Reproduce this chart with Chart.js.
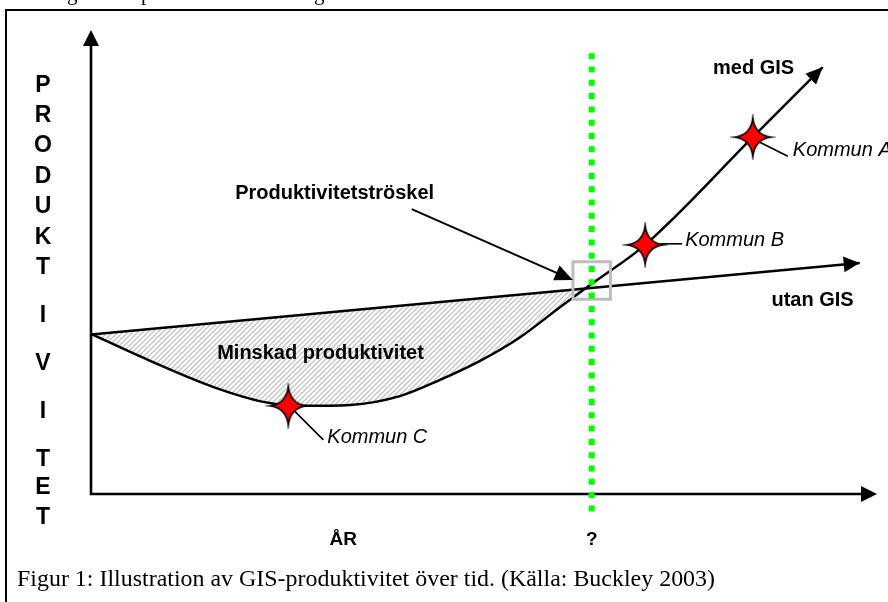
<!DOCTYPE html>
<html><head><meta charset="utf-8">
<script src="https://cdn.jsdelivr.net/npm/chart.js@4.4.1/dist/chart.umd.min.js"></script>
<style>html,body{margin:0;padding:0;background:#fff;}canvas{display:block;}</style>
</head><body>
<canvas id="c" width="888" height="602"></canvas>
<script>
// ---------- data (time units on x, productivity units on y) ----------
const tid      = [0, 0.75, 1.55, 2.21, 2.66, 3.30, 3.93, 4.44, 4.95, 5.46, 5.97, 6.37, 7.05, 8.42, 9.31];
const medGIS   = [3.45, 2.87, 2.31, 1.98, 1.90, 1.92, 2.11, 2.46, 2.87, 3.38, 4.03, 4.53, 5.37, 7.69, 9.20];
const utanTid  = [0, 9.78];
const utanGIS  = [3.44, 4.98];
const kommunNamn = ['Kommun A', 'Kommun B', 'Kommun C'];
const kommunTid  = [8.42, 7.05, 2.51];
const kommunProd = [7.69, 5.37, 1.90];
const troskelTid  = 6.37;
const troskelProd = 4.60;
const troskelLinje = [9.50, -0.39];
const yAxelBokstaver = ['P','R','O','D','U','K','T','I','V','I','T','E','T'];
const xAxelText = 'ÅR';
const troskelText = '?';
const rubrikText = 'Figur 1: Illustration av GIS-produktivitet över tid. (Källa: Buckley 2003)';

// ---------- styles / layout ----------
const SANS = '"Liberation Sans", Arial, sans-serif';
const SERIF = '"Liberation Serif", "Times New Roman", serif';
const yLetterY = [86, 116, 146, 177, 207, 238, 268, 316, 364, 412, 460, 488, 518];

function makeHatch() {
  const s = 5, c = document.createElement('canvas');
  c.width = s; c.height = s;
  const g = c.getContext('2d');
  g.fillStyle = '#ffffff'; g.fillRect(0, 0, s, s);
  g.strokeStyle = '#c2c2c2'; g.lineWidth = 1.3;
  g.beginPath();
  g.moveTo(0, s); g.lineTo(s, 0);
  g.moveTo(-1, 1); g.lineTo(1, -1);
  g.moveTo(s - 1, s + 1); g.lineTo(s + 1, s - 1);
  g.stroke();
  return g.createPattern(c, 'repeat');
}
function makeStar() {
  const W = 46, c = document.createElement('canvas');
  c.width = W; c.height = W;
  const g = c.getContext('2d');
  const cx = W / 2, cy = W / 2, rv = 19, rh = 18, k = 2.2;
  g.beginPath();
  g.moveTo(cx, cy - rv);
  g.quadraticCurveTo(cx + k, cy - k, cx + rh, cy);
  g.quadraticCurveTo(cx + k, cy + k, cx, cy + rv);
  g.quadraticCurveTo(cx - k, cy + k, cx - rh, cy);
  g.quadraticCurveTo(cx - k, cy - k, cx, cy - rv);
  g.closePath();
  g.fillStyle = '#ff0000'; g.fill();
  g.strokeStyle = '#000'; g.lineWidth = 1.7; g.lineJoin = 'miter'; g.stroke();
  return c;
}
function arrowHead(ctx, x1, y1, x2, y2, len, half) {
  const a = Math.atan2(y2 - y1, x2 - x1);
  const bx = x2 - len * Math.cos(a), by = y2 - len * Math.sin(a);
  ctx.beginPath();
  ctx.moveTo(x2, y2);
  ctx.lineTo(bx + half * Math.sin(a), by - half * Math.cos(a));
  ctx.lineTo(bx - half * Math.sin(a), by + half * Math.cos(a));
  ctx.closePath();
  ctx.fillStyle = '#000'; ctx.fill();
}

const diagramPlugin = {
  id: 'diagram',
  beforeDraw(chart) {
    const ctx = chart.ctx;
    ctx.save();
    ctx.fillStyle = '#fff';
    ctx.fillRect(0, 0, chart.width, chart.height);
    // partial line of text above the frame
    ctx.fillStyle = '#000';
    ctx.font = '21px ' + SERIF;
    ctx.textBaseline = 'alphabetic';
    ctx.fillText('g', 67, 0); ctx.fillText('p', 141, 0); ctx.fillText('g', 314, 0);
    // frame
    ctx.strokeStyle = '#000'; ctx.lineWidth = 2;
    ctx.strokeRect(6, 10, 1000, 800);
    ctx.restore();
  },
  beforeDatasetsDraw(chart) {
    const ctx = chart.ctx, a = chart.chartArea, xs = chart.scales.x, ys = chart.scales.y;
    const x0 = xs.getPixelForValue(0), y0 = ys.getPixelForValue(0);
    ctx.save();
    ctx.strokeStyle = '#000'; ctx.lineWidth = 2.6; ctx.lineCap = 'butt';
    ctx.beginPath();
    ctx.moveTo(x0, y0 + 1.3); ctx.lineTo(x0, a.top + 8);
    ctx.moveTo(x0 - 1.3, y0); ctx.lineTo(a.right - 8, y0);
    ctx.stroke();
    arrowHead(ctx, x0, y0, x0, a.top, 16, 8);
    arrowHead(ctx, x0, y0, a.right, y0, 16, 8);
    // leader lines for the municipalities
    const offs = [[7, 5, 35, 19], [15, -1, 37, -1], [5, 4, 35, 34]];
    ctx.lineWidth = 1.6;
    kommunTid.forEach((t, i) => {
      const px = xs.getPixelForValue(t), py = ys.getPixelForValue(kommunProd[i]);
      const o = offs[i];
      ctx.beginPath();
      ctx.moveTo(px + o[0], py + o[1]); ctx.lineTo(px + o[2], py + o[3]);
      ctx.stroke();
    });
    ctx.restore();
  },
  afterDatasetsDraw(chart) {
    const ctx = chart.ctx, xs = chart.scales.x, ys = chart.scales.y;
    const P = (x, y) => [xs.getPixelForValue(x), ys.getPixelForValue(y)];
    ctx.save();
    // arrowheads at the ends of the two series
    const mA = P(tid[tid.length - 2], medGIS[medGIS.length - 2]);
    const mB = P(tid[tid.length - 1], medGIS[medGIS.length - 1]);
    arrowHead(ctx, mA[0], mA[1], mB[0], mB[1], 17, 7.5);
    const uA = P(utanTid[0], utanGIS[0]);
    const uB = P(utanTid[1], utanGIS[1]);
    arrowHead(ctx, uA[0], uA[1], uB[0], uB[1], 16, 8);
    // pointer to the threshold
    const pA = P(4.08, 6.14), pB = P(6.13, 4.61);
    const ang = Math.atan2(pB[1] - pA[1], pB[0] - pA[0]);
    ctx.strokeStyle = '#000'; ctx.lineWidth = 2;
    ctx.beginPath();
    ctx.moveTo(pA[0], pA[1]);
    ctx.lineTo(pB[0] - 14 * Math.cos(ang), pB[1] - 14 * Math.sin(ang));
    ctx.stroke();
    arrowHead(ctx, pA[0], pA[1], pB[0], pB[1], 18, 8);

    // labels
    ctx.fillStyle = '#000';
    ctx.textBaseline = 'middle';
    ctx.textAlign = 'center';
    ctx.font = 'bold 20px ' + SANS;
    let p = P(8.43, 9.18); ctx.fillText('med GIS', p[0], p[1]);
    p = P(9.18, 4.18); ctx.fillText('utan GIS', p[0], p[1]);
    p = P(3.10, 6.47); ctx.fillText('Produktivitetströskel', p[0], p[1]);
    p = P(2.92, 3.02); ctx.fillText('Minskad produktivitet', p[0], p[1]);
    ctx.font = 'bold 19px ' + SANS;
    p = P(3.21, -0.99); ctx.fillText(xAxelText, p[0], p[1]);
    p = P(troskelTid, -0.99); ctx.fillText(troskelText, p[0], p[1]);
    // municipality names
    ctx.textAlign = 'left';
    ctx.font = 'italic 20px ' + SANS;
    const tOff = [[40, 13], [40, -4], [39, 32]];
    kommunNamn.forEach((n, i) => {
      const q = P(kommunTid[i], kommunProd[i]);
      ctx.fillText(n, q[0] + tOff[i][0], q[1] + tOff[i][1]);
    });
    // vertical axis title
    ctx.textAlign = 'center';
    ctx.font = 'bold 23px ' + SANS;
    yAxelBokstaver.forEach((ch, i) => ctx.fillText(ch, 43, yLetterY[i]));
    // caption (fitted to the caption width of the original figure)
    ctx.textAlign = 'left';
    ctx.textBaseline = 'alphabetic';
    ctx.font = '21px ' + SERIF;
    const w = ctx.measureText(rubrikText).width;
    const fs = 21 * 698 / w;
    ctx.save();
    ctx.translate(17, 586);
    ctx.scale(fs / 21, 1.08);
    ctx.fillText(rubrikText, 0, 0);
    ctx.restore();
    ctx.restore();
  }
};

const hatch = makeHatch();
const star = makeStar();
const xy = (xsArr, ysArr) => xsArr.map((x, i) => ({ x, y: ysArr[i] }));

new Chart(document.getElementById('c'), {
  type: 'line',
  data: {
    datasets: [
      { label: 'med GIS', data: xy(tid, medGIS), borderColor: '#000', borderWidth: 2.5,
        pointRadius: 0, cubicInterpolationMode: 'monotone',
        fill: { target: 1, above: 'rgba(0,0,0,0)', below: hatch }, order: 3 },
      { label: 'utan GIS', data: xy(utanTid, utanGIS), borderColor: '#000', borderWidth: 2.5,
        pointRadius: 0, fill: false, order: 4 },
      { label: 'Produktivitetströskel', data: [{ x: troskelTid, y: troskelLinje[0] }, { x: troskelTid, y: troskelLinje[1] }],
        borderColor: '#00ff00', borderWidth: 6, borderDash: [6, 7.3], pointRadius: 0, fill: false,
        clip: false, order: 1 },
      { label: 'Tröskelruta', type: 'scatter', data: [{ x: troskelTid, y: troskelProd }],
        pointStyle: 'rect', pointRadius: 26.5, borderColor: '#bdbdbd', borderWidth: 3,
        backgroundColor: 'rgba(0,0,0,0)', order: 2 },
      { label: 'Kommuner', type: 'scatter', data: xy(kommunTid, kommunProd),
        pointStyle: star, pointRadius: 10, order: 0 }
    ]
  },
  options: {
    responsive: false, animation: false, events: [],
    layout: { autoPadding: false, padding: { left: 91, right: 11, top: 30, bottom: 108 } },
    scales: {
      x: { type: 'linear', min: 0, max: 10, display: false },
      y: { type: 'linear', min: 0, max: 10, display: false }
    },
    plugins: { legend: { display: false }, tooltip: { enabled: false }, filler: { drawTime: 'beforeDatasetsDraw' } }
  },
  plugins: [diagramPlugin]
});
</script>
</body></html>
